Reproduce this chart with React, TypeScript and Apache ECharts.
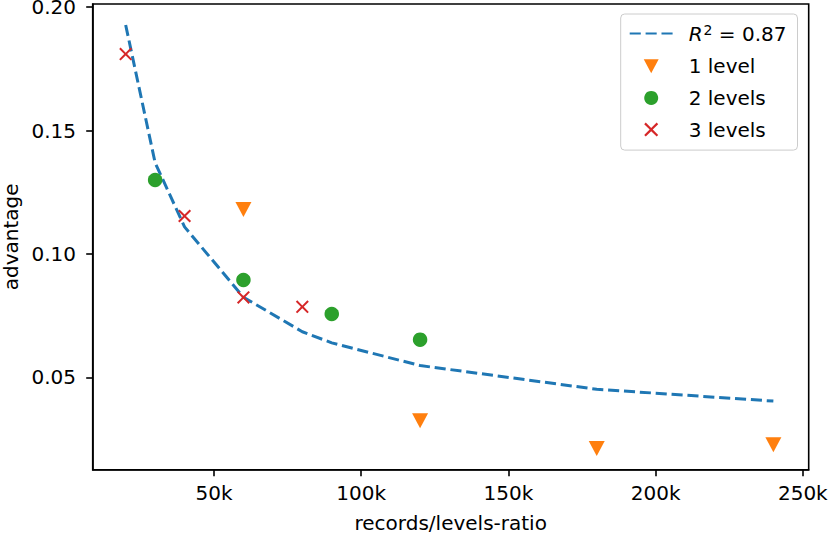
import React, { useEffect, useRef } from "react";
import * as echarts from "echarts";

const fitX = [20000, 30000, 40000, 60000, 80000, 90000, 120000, 180000, 240000];
const fitY = [0.1928, 0.137, 0.111, 0.0825, 0.0685, 0.064, 0.0548, 0.0452, 0.0404];

const level1X = [60000, 120000, 180000, 240000];
const level1Y = [0.118, 0.0324, 0.0212, 0.0227];

const level2X = [30000, 60000, 90000, 120000];
const level2Y = [0.13, 0.0895, 0.0757, 0.0653];

const level3X = [20000, 40000, 60000, 80000];
const level3Y = [0.181, 0.1154, 0.0824, 0.0786];

const xTicks = [50000, 100000, 150000, 200000, 250000];
const yTicks = [0.05, 0.1, 0.15, 0.2];

const fitName = "R^2 = 0.87";
const names = ["1 level", "2 levels", "3 levels"];

const FONT = "DejaVu Sans";
const CROSS =
  "path://M11,0L50,39L89,0L100,11L61,50L100,89L89,100L50,61L11,100L0,89L39,50L0,11Z";
const TRI_DOWN = "path://M0,0L16,0L8,15Z";

const zip = (xs: number[], ys: number[]) => xs.map((x, i) => [x, ys[i]]);

export default function App() {
  const ref = useRef<HTMLDivElement>(null);
  useEffect(() => {
    if (!ref.current) return;
    const chart = echarts.init(ref.current, undefined, { renderer: "svg" });
    const axisLine = { show: true, lineStyle: { color: "#000", width: 1.6 } };
    const tick = { show: true, length: 6.5, lineStyle: { color: "#000", width: 1.6 } };
    const labelStyle = { fontSize: 20, fontFamily: FONT, color: "#000" };
    chart.setOption({
      animation: false,
      backgroundColor: "#fff",
      textStyle: { fontFamily: FONT },
      grid: {
        left: 92.7,
        right: 21.3,
        top: 4,
        bottom: 66.3,
        containLabel: false,
        outerBoundsMode: "none",
        show: true,
        borderColor: "#000",
        borderWidth: 1.6,
        backgroundColor: "transparent",
      },
      xAxis: {
        type: "value",
        min: 8800,
        max: 252000,
        axisLine,
        splitLine: { show: false },
        axisTick: { ...tick, customValues: xTicks },
        axisLabel: {
          ...labelStyle,
          customValues: xTicks,
          margin: 13.6,
          formatter: (v: number) => `${Math.round(v / 1000)}k`,
        },
        name: "records/levels-ratio",
        nameLocation: "middle",
        nameGap: 43,
        nameTextStyle: labelStyle,
      },
      yAxis: {
        type: "value",
        min: 0.0126,
        max: 0.2013,
        axisLine,
        splitLine: { show: false },
        axisTick: { ...tick, customValues: yTicks },
        axisLabel: {
          ...labelStyle,
          lineHeight: 14,
          customValues: yTicks,
          margin: 16.7,
          formatter: (v: number) => v.toFixed(2),
        },
        name: "advantage",
        nameLocation: "middle",
        nameGap: 69,
        nameTextStyle: labelStyle,
      },
      legend: {
        orient: "vertical",
        left: 620.7,
        top: 14,
        padding: [8.5, 11, 10.5, 8],
        itemWidth: 43,
        itemHeight: 14,
        itemGap: 11.7,
        backgroundColor: "rgba(255,255,255,0.8)",
        borderColor: "#cccccc",
        borderWidth: 1,
        borderRadius: 4,
        data: [
          { name: fitName, itemStyle: { color: "rgba(0,0,0,0)", opacity: 0, borderWidth: 0 } },
          { name: names[0], icon: TRI_DOWN },
          { name: names[1], icon: "circle" },
          { name: names[2], icon: CROSS },
        ],
        formatter: (name: string) =>
          name === fitName ? "{r|R}{s|2}{t| = 0.87}" : `{p|${name}}`,
        textStyle: {
          ...labelStyle,
          lineHeight: 20,
          rich: {
            r: { ...labelStyle, fontStyle: "italic", lineHeight: 20, padding: [0, 0, 0, 11] },
            s: { ...labelStyle, fontSize: 14, lineHeight: 14, padding: [0, 0, 8, 1] },
            t: { ...labelStyle, lineHeight: 20 },
            p: { ...labelStyle, lineHeight: 20, padding: [0, 0, 0, 11] },
          },
        },
      },
      series: [
        {
          name: fitName,
          type: "line",
          data: zip(fitX, fitY),
          symbol: "none",
          showSymbol: false,
          lineStyle: { color: "#1f77b4", width: 3, type: [11.1, 4.8] },
          itemStyle: { color: "#1f77b4" },
          z: 2,
        },
        {
          name: names[0],
          type: "scatter",
          data: zip(level1X, level1Y),
          symbol: "triangle",
          symbolRotate: 180,
          symbolSize: [16, 15],
          itemStyle: { color: "#ff7f0e", opacity: 1 },
          z: 3,
        },
        {
          name: names[1],
          type: "scatter",
          data: zip(level2X, level2Y),
          symbol: "circle",
          symbolSize: 14.5,
          itemStyle: { color: "#2ca02c", opacity: 1 },
          z: 3,
        },
        {
          name: names[2],
          type: "scatter",
          data: zip(level3X, level3Y),
          symbol: CROSS,
          symbolSize: 13,
          itemStyle: { color: "#d62728", opacity: 1 },
          z: 3,
        },
      ],
    });
    return () => chart.dispose();
  }, []);
  return (
    <div
      ref={ref}
      style={{ position: "absolute", left: 0, top: 0, width: 830, height: 536 }}
    />
  );
}
